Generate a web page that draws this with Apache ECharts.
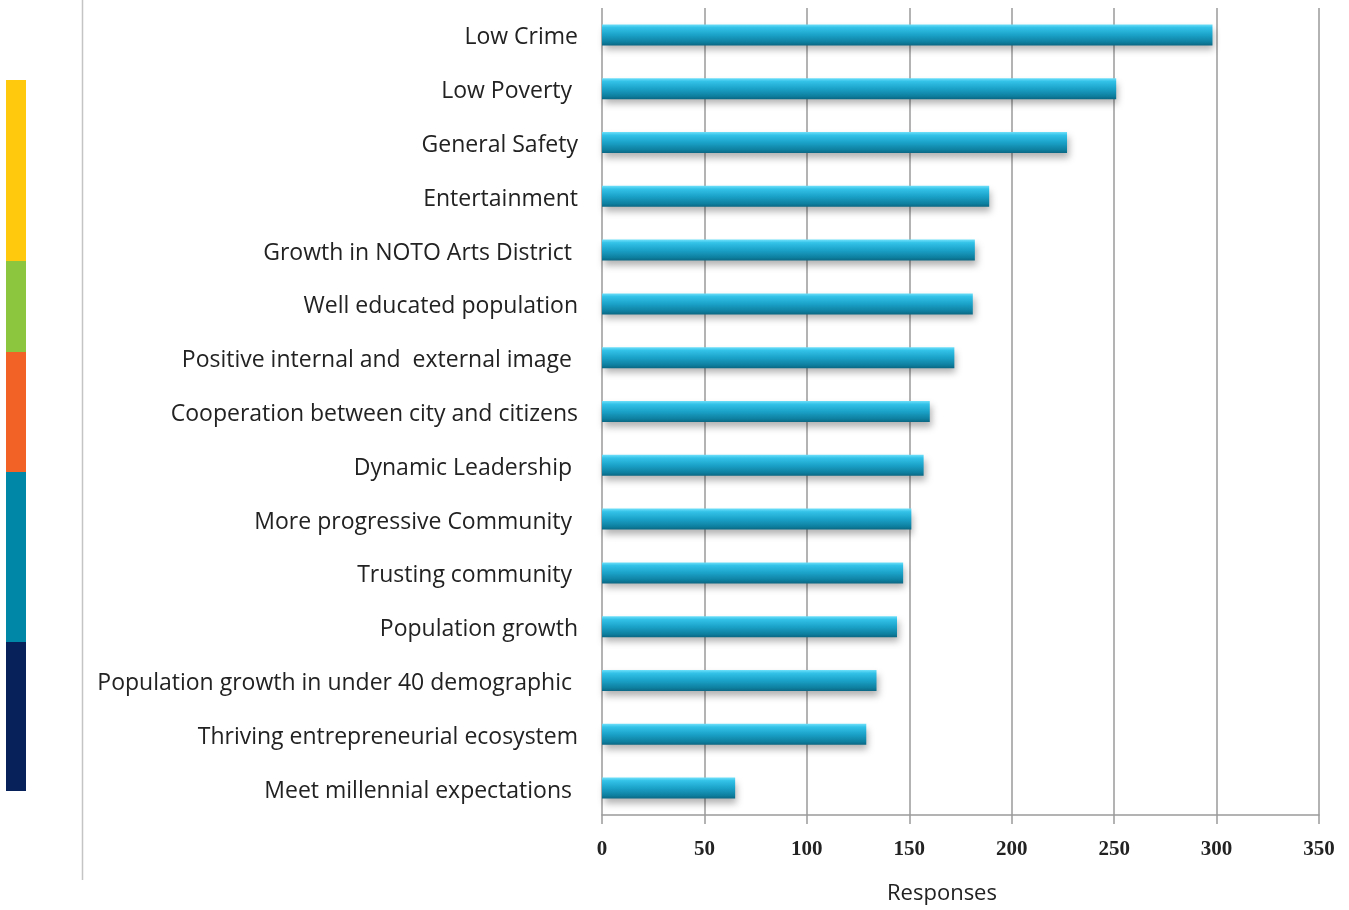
<!DOCTYPE html>
<html>
<head>
<meta charset="utf-8">
<script src="https://cdn.jsdelivr.net/npm/echarts@6/dist/echarts.min.js"></script>
<style>
html,body{margin:0;padding:0;background:#fff;}
#chart{width:1349px;height:910px;}
</style>
</head>
<body>
<div id="chart"></div>
<script>
const categories = [
  "Low Crime",
  "Low Poverty ",
  "General Safety",
  "Entertainment",
  "Growth in NOTO Arts District ",
  "Well educated population",
  "Positive internal and  external image ",
  "Cooperation between city and citizens",
  "Dynamic Leadership ",
  "More progressive Community ",
  "Trusting community ",
  "Population growth",
  "Population growth in under 40 demographic ",
  "Thriving entrepreneurial ecosystem",
  "Meet millennial expectations "
];
const responses = [298, 251, 227, 189, 182, 181, 172, 160, 157, 151, 147, 144, 134, 129, 65];
const xTicks = { min: 0, max: 350, interval: 50 };
const axisTitle = "Responses";

const chart = echarts.init(document.getElementById('chart'), null, {renderer: 'canvas'});
const option = {
  backgroundColor: '#ffffff',
  animation: false,
  grid: { left: 602, right: 30, top: 8, bottom: 93, containLabel: false },
  xAxis: {
    type: 'value',
    min: xTicks.min, max: xTicks.max, interval: xTicks.interval,
    name: axisTitle,
    nameLocation: 'middle',
    nameGap: 68,
    nameTextStyle: { fontFamily: 'Open Sans', fontSize: 22, color: '#222', padding: [0, 37, 0, 0] },
    axisLine: { show: true, lineStyle: { color: '#9a9a9a', width: 1.5 } },
    axisTick: { show: true, length: 9, lineStyle: { color: '#9a9a9a', width: 1.5 } },
    axisLabel: { margin: 24, fontFamily: 'Liberation Serif', fontWeight: 'bold', fontSize: 21, color: '#222' },
    splitLine: { show: true, lineStyle: { color: '#9a9a9a', width: 1.5 } }
  },
  yAxis: {
    type: 'category',
    data: categories,
    inverse: true,
    axisLine: { show: false },
    axisTick: { show: false },
    splitLine: { show: false },
    axisLabel: {
      margin: 24,
      formatter: function (v) { return '{a|' + v + '}'; },
      rich: { a: { fontFamily: 'Open Sans', fontSize: 23, color: '#222', padding: [6, 0, 0, 0] } }
    }
  },
  series: [{
    type: 'bar',
    data: responses,
    barWidth: 21,
    itemStyle: {
      color: new echarts.graphic.LinearGradient(0, 0, 0, 1, [
        { offset: 0, color: '#6fe0fa' },
        { offset: 0.15, color: '#33c2e8' },
        { offset: 0.5, color: '#1ba2c9' },
        { offset: 0.85, color: '#0e7f9f' },
        { offset: 1, color: '#0a6783' }
      ]),
      shadowColor: 'rgba(0,0,0,0.3)',
      shadowBlur: 7,
      shadowOffsetY: 5,
      shadowOffsetX: 2
    }
  }],
  graphic: [
    { type: 'line', shape: { x1: 82.5, y1: 0, x2: 82.5, y2: 880 }, style: { stroke: '#c4c4c4', lineWidth: 1.5 } },
    { type: 'rect', shape: { x: 6, y: 80, width: 20, height: 181 }, style: { fill: '#FFC90D' } },
    { type: 'rect', shape: { x: 6, y: 261, width: 20, height: 91 }, style: { fill: '#8CC63F' } },
    { type: 'rect', shape: { x: 6, y: 352, width: 20, height: 120 }, style: { fill: '#F26125' } },
    { type: 'rect', shape: { x: 6, y: 472, width: 20, height: 170 }, style: { fill: '#0086A6' } },
    { type: 'rect', shape: { x: 6, y: 642, width: 20, height: 149 }, style: { fill: '#07215A' } }
  ]
};
chart.setOption(option);
</script>
</body>
</html>
